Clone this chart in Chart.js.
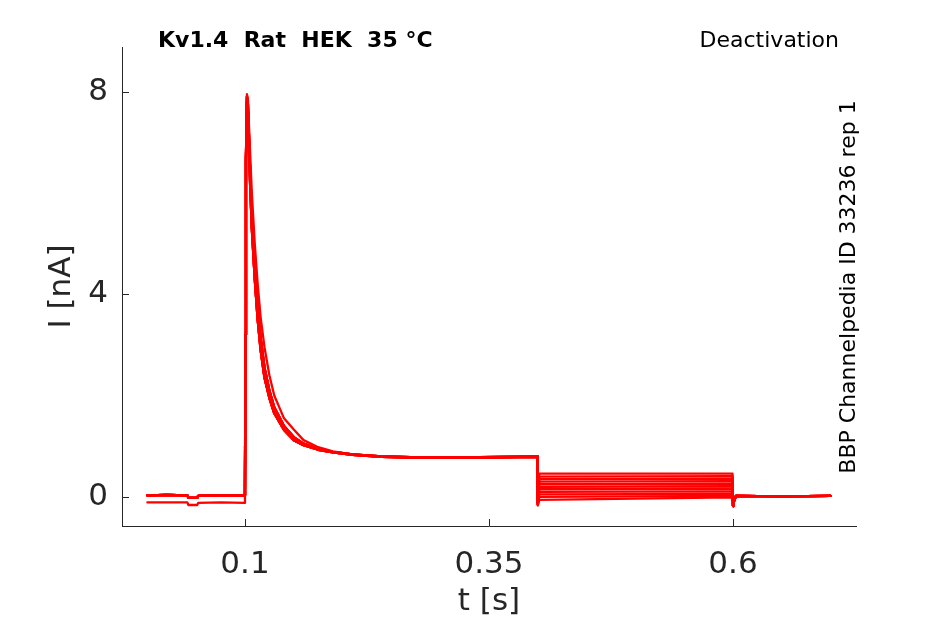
<!DOCTYPE html>
<html>
<head>
<meta charset="utf-8">
<script src="https://cdn.jsdelivr.net/npm/chart.js@4.4.0/dist/chart.umd.min.js"></script>
<style>
  html, body { margin: 0; padding: 0; background: #fff; }
  canvas { display: block; }
</style>
</head>
<body>
<canvas id="traceChart" width="945" height="624"></canvas>
<script>
// sweep timing (s) and currents (nA)
const tBase = [0, 0.02, 0.041, 0.042, 0.051, 0.052, 0.075, 0.0998];
const baseUpper = [0.03, 0.04, 0.03, -0.02, -0.02, 0.02, 0.03, 0.03];
const baseLower = [-0.11, -0.11, -0.11, -0.16, -0.16, -0.12, -0.11, -0.12];

const tAct = [0.1, 0.1005, 0.101, 0.102, 0.103, 0.105, 0.107, 0.11, 0.113, 0.116, 0.12, 0.125,
  0.13, 0.14, 0.15, 0.16, 0.175, 0.19, 0.21, 0.24, 0.28, 0.32, 0.36, 0.3995];
const decayFast = [0.1, 3.2, 6.6, 7.8, 7.6, 6.3, 5.3, 4.3, 3.5, 2.9, 2.35, 1.95,
  1.65, 1.32, 1.12, 1.02, 0.93, 0.88, 0.83, 0.79, 0.77, 0.77, 0.78, 0.79];
const decayMid = [0.1, 3.2, 6.7, 7.9, 7.75, 6.6, 5.6, 4.6, 3.8, 3.15, 2.55, 2.1,
  1.77, 1.4, 1.18, 1.05, 0.95, 0.89, 0.84, 0.8, 0.78, 0.78, 0.79, 0.8];
const decaySlow = [0.1, 3.2, 6.7, 7.95, 7.85, 6.9, 6.0, 5.0, 4.2, 3.55, 2.95, 2.4,
  2.0, 1.55, 1.33, 1.12, 0.98, 0.9, 0.84, 0.8, 0.78, 0.77, 0.78, 0.79];

// tail step (0.4 - 0.6 s), one level per sweep
const tTail = [0.4, 0.4015, 0.5995];
const tailDip = [-0.12, -0.13, -0.14, -0.13, -0.15, -0.14, -0.13, -0.15, -0.14, -0.16, -0.17];
const tailStart = [0.46, 0.40, 0.35, 0.30, 0.25, 0.20, 0.15, 0.10, 0.05, 0.0, -0.06];
const tailEnd = [0.46, 0.41, 0.36, 0.31, 0.26, 0.21, 0.16, 0.11, 0.06, 0.02, -0.01];

const tPost = [0.6, 0.6008, 0.603, 0.65, 0.7];
const postVals = [-0.18, -0.1, 0.02, 0.01, 0.02];

const decayKind = ['fast', 'mid', 'fast', 'slow', 'mid', 'fast', 'mid', 'fast', 'mid', 'fast', 'mid'];
const lowerSweep = 6;

const xTicks = [0.1, 0.35, 0.6];
const yTicks = [0, 4, 8];

const decayShapes = { fast: decayFast, mid: decayMid, slow: decaySlow };

function buildSweep(i) {
  const pts = [];
  const base = i === lowerSweep ? baseLower : baseUpper;
  tBase.forEach((t, k) => pts.push({ x: t, y: base[k] }));
  const decay = decayShapes[decayKind[i]];
  tAct.forEach((t, k) => pts.push({ x: t, y: decay[k] }));
  pts.push({ x: tTail[0], y: tailDip[i] });
  pts.push({ x: tTail[1], y: tailStart[i] });
  pts.push({ x: tTail[2], y: tailEnd[i] });
  tPost.forEach((t, k) => pts.push({ x: t, y: postVals[k] }));
  return pts;
}

const datasets = tailStart.map((_, i) => ({
  data: buildSweep(i),
  borderColor: '#ff0000',
  borderWidth: 2.3,
  borderJoinStyle: 'round',
  borderCapStyle: 'round',
  pointRadius: 0,
  tension: 0
}));

const axisGrey = '#262626';

const decorations = {
  id: 'decorations',
  afterDraw(chart) {
    const ctx = chart.ctx;
    const area = chart.chartArea;
    const xs = chart.scales.x, ys = chart.scales.y;
    ctx.save();
    // inward tick marks
    ctx.strokeStyle = axisGrey;
    ctx.lineWidth = 1;
    ctx.beginPath();
    xTicks.forEach(v => {
      const px = Math.round(xs.getPixelForValue(v)) + 0.5;
      ctx.moveTo(px, area.bottom);
      ctx.lineTo(px, area.bottom - 7);
    });
    yTicks.forEach(v => {
      const py = Math.round(ys.getPixelForValue(v)) + 0.5;
      ctx.moveTo(area.left, py);
      ctx.lineTo(area.left + 7, py);
    });
    ctx.stroke();

    ctx.fillStyle = '#000';
    ctx.textBaseline = 'alphabetic';
    ctx.font = 'bold 22px "DejaVu Sans"';
    ctx.textAlign = 'left';
    ctx.fillText('Kv1.4  Rat  HEK  35 °C', 158, 47);
    ctx.font = '22px "DejaVu Sans"';
    ctx.textAlign = 'right';
    ctx.fillText('Deactivation', 839, 47);

    ctx.translate(849, 287);
    ctx.rotate(-Math.PI / 2);
    ctx.textAlign = 'center';
    ctx.textBaseline = 'middle';
    ctx.fillText('BBP Channelpedia ID 33236 rep 1', 0, 0);
    ctx.restore();
  }
};

new Chart(document.getElementById('traceChart').getContext('2d'), {
  type: 'line',
  data: { datasets: datasets },
  options: {
    responsive: false,
    animation: false,
    layout: { padding: { left: 0, top: 47, right: 89, bottom: 0 } },
    plugins: { legend: { display: false }, tooltip: { enabled: false } },
    scales: {
      x: {
        type: 'linear',
        min: -0.026,
        max: 0.726,
        afterFit: s => { s.height = 98; },
        afterBuildTicks: s => { s.ticks = xTicks.map(v => ({ value: v })); },
        grid: { display: false },
        border: { display: true, color: axisGrey, width: 1 },
        ticks: {
          color: axisGrey,
          padding: 12,
          maxRotation: 0,
          font: { family: 'DejaVu Sans', size: 31 },
          callback: v => String(v)
        },
        title: {
          display: true,
          text: 't [s]',
          color: axisGrey,
          padding: { top: 0, bottom: 3 },
          font: { family: 'DejaVu Sans', size: 31 }
        }
      },
      y: {
        min: -0.575,
        max: 8.88,
        afterFit: s => { s.width = 122; },
        afterBuildTicks: s => { s.ticks = yTicks.map(v => ({ value: v })); },
        grid: { display: false },
        border: { display: true, color: axisGrey, width: 1 },
        ticks: {
          color: axisGrey,
          padding: 6,
          font: { family: 'DejaVu Sans', size: 31 },
          callback: v => String(v)
        },
        title: {
          display: true,
          text: 'I [nA]',
          color: axisGrey,
          padding: { top: 43, bottom: 0 },
          font: { family: 'DejaVu Sans', size: 31 }
        }
      }
    }
  },
  plugins: [decorations]
});
</script>
</body>
</html>
